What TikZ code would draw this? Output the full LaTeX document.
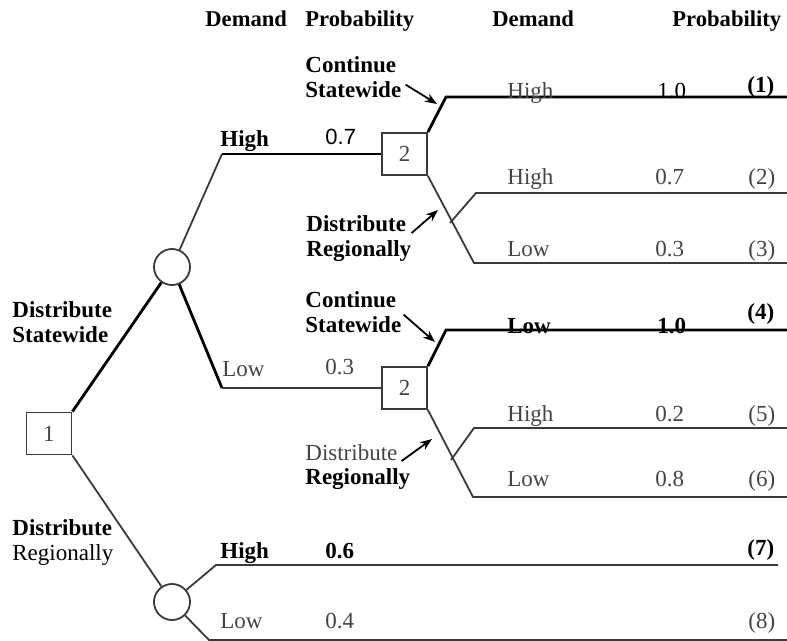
\documentclass[tikz,border=0pt]{standalone}
\usepackage{fontspec}
\setmainfont{Liberation Serif}
\setsansfont{Liberation Sans}
\usetikzlibrary{shapes,arrows,arrows.meta,positioning}
\definecolor{treeink}{RGB}{58,58,58}
\definecolor{labelgray}{RGB}{68,68,68}

\begin{document}
\begin{tikzpicture}[
    x=0.5pt, y=-0.5pt,
    every node/.style={inner sep=0pt, font=\fontsize{11.5}{12.5}\selectfont},
    decision/.style={rectangle, draw=treeink, line width=0.9pt, minimum width=22.5pt, minimum height=21pt, text=labelgray},
    chance/.style={circle, draw=treeink, line width=0.9pt, minimum size=18pt},
    head/.style={anchor=base west, font=\fontsize{11.3}{12.5}\selectfont\bfseries},
    act/.style={anchor=base west, align=left, font=\fontsize{11.5}{12.5}\selectfont\bfseries},
    lbl/.style={anchor=base west, text=labelgray},
    blbl/.style={anchor=base west, font=\fontsize{11.5}{12.5}\selectfont\bfseries},
    branch/.style={draw=treeink, line width=0.9pt},
    boldbranch/.style={draw=black, line width=1.4pt},
    pointer/.style={-{Stealth[length=6pt,width=4.5pt]}, black, line width=0.9pt}
]
\useasboundingbox (0,0) rectangle (787,641);

% Column headings
\node[head] (dem1) at (205,27) {Demand};
\node[head] (prob1) at (305,27) {Probability};
\node[head] (dem2) at (492,27) {Demand};
\node[head] (prob2) at (672,27) {Probability};

% Decision and chance nodes
\node[decision] (d1) at (49,433.5) {1};
\node[decision] (d2up) at (404.5,154) {2};
\node[decision] (d2lo) at (404.5,388) {2};
\node[chance] (c1) at (172,267) {};
\node[chance] (c2) at (172,602) {};

% Bends and ends of the branches
\coordinate (k1) at (222,154);
\coordinate (k2) at (222,388);
\coordinate (k7) at (216,565);
\coordinate (k8) at (209,640);
\coordinate (e7) at (778,565);
\coordinate (e8) at (787,640);
\coordinate (s1) at (446,97);  \coordinate (e1) at (787,97);
\coordinate (f1) at (450,223); \coordinate (u1) at (476,193); \coordinate (e2) at (787,193);
\coordinate (r1) at (474,263); \coordinate (e3) at (787,263);
\coordinate (s4) at (446,330); \coordinate (e4) at (787,330);
\coordinate (f2) at (451,460); \coordinate (u2) at (474,428); \coordinate (e5) at (787,428);
\coordinate (r2) at (473,497); \coordinate (e6) at (787,497);

% First decision
\draw[boldbranch] (d1.north east) -- (c1);
\draw[branch] (d1.south east) -- (c2);
\node[act] (ds) at (12,343) {Distribute\\Statewide};
\node[act] (dr) at (12,560) {Distribute\\\mdseries Regionally};

% Statewide demand
\draw[branch] (c1) -- (k1);
\draw[boldbranch] (k1) -- (d2up.west);
\draw[boldbranch] (c1) -- (k2);
\draw[branch] (k2) -- (d2lo.west);
\node[blbl] (hi1) at (220,147) {High};
\node[anchor=base west, font=\fontsize{11}{12}\selectfont\sffamily] (p1) at (325,145) {0.7};
\node[lbl] (lo1) at (222,377) {Low};
\node[lbl] (p2) at (325,375) {0.3};

% Second decision after high demand
\draw[boldbranch] (d2up.north east) -- (s1) -- (e1);
\draw[branch] (d2up.south east) -- (r1) -- (e3);
\draw[branch] (f1) -- (u1) -- (e2);
\node[act] (cs1) at (305,98) {Continue\\Statewide};
\node[act] (dr1) at (306,257) {Distribute\\Regionally};
\coordinate (t1) at (437,104);
\coordinate (t2) at (438,210);
\draw[pointer] ([xshift=2pt,yshift=-3.5pt]cs1.east) -- (t1);
\draw[pointer] ([xshift=0pt,yshift=3pt]dr1.east) -- (t2);

\node[lbl] (o1d) at (507,99) {High};
\node[lbl, text=black] (o1p) at (657,99) {1.0};
\node[blbl] (o1) at (747,93) {(1)};
\node[lbl] (o2d) at (507,185) {High};
\node[lbl] (o2p) at (655,185) {0.7};
\node[lbl] (o2) at (748,185) {(2)};
\node[lbl] (o3d) at (507,257) {Low};
\node[lbl] (o3p) at (655,257) {0.3};
\node[lbl] (o3) at (748,257) {(3)};

% Second decision after low demand
\draw[boldbranch] (d2lo.north east) -- (s4) -- (e4);
\draw[branch] (d2lo.south east) -- (r2) -- (e6);
\draw[branch] (f2) -- (u2) -- (e5);
\node[act] (cs2) at (305,333) {Continue\\Statewide};
\node[act] (dr2) at (305,485) {\mdseries\color{labelgray}Distribute\\Regionally};
\coordinate (t3) at (435,342);
\coordinate (t4) at (432,439);
\draw[pointer] ([xshift=1pt,yshift=-1pt]cs2.east) -- (t3);
\draw[pointer] ([xshift=-4.5pt,yshift=3pt]dr2.east) -- (t4);

\node[blbl] (o4d) at (507,334) {Low};
\node[blbl] (o4p) at (657,334) {1.0};
\node[blbl] (o4) at (747,320) {(4)};
\node[lbl] (o5d) at (507,422) {High};
\node[lbl] (o5p) at (655,422) {0.2};
\node[lbl] (o5) at (748,422) {(5)};
\node[lbl] (o6d) at (507,487) {Low};
\node[lbl] (o6p) at (655,487) {0.8};
\node[lbl] (o6) at (748,487) {(6)};

% Regional demand
\draw[branch] (c2) -- (k7) -- (e7);
\draw[branch] (c2) -- (k8) -- (e8);
\node[blbl] (hi7) at (220,558) {High};
\node[blbl] (p7) at (325,558) {0.6};
\node[lbl] (lo8) at (220,628) {Low};
\node[lbl] (p8) at (325,628) {0.4};
\node[blbl] (o7) at (747,555) {(7)};
\node[lbl] (o8) at (748,628) {(8)};

\end{tikzpicture}
\end{document}
